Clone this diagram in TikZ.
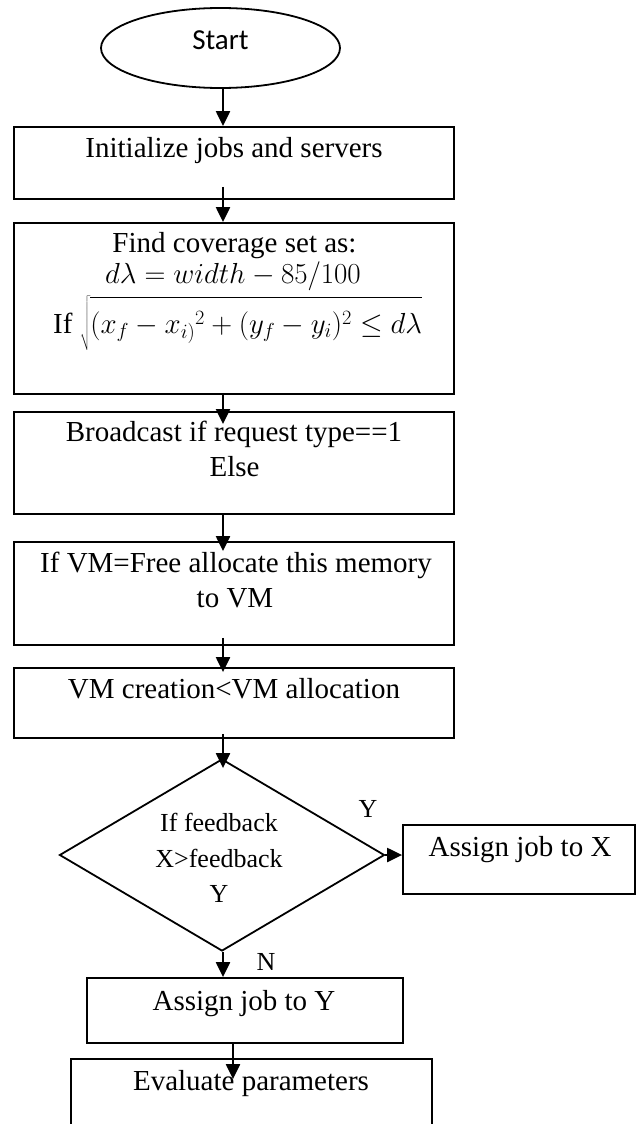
\documentclass[tikz,border=0pt]{standalone}
\usepackage{fix-cm}
\usepackage{fontspec}
\setmainfont{Liberation Serif}
\newfontfamily\calfont{Carlito}
\usetikzlibrary{shapes.geometric,arrows.meta,calc}
\begin{document}
\begin{tikzpicture}[x=1pt,y=-1pt,
  box/.style={draw,line width=1.8pt,rectangle,inner sep=0pt},
  arr/.style={line width=2.2pt,-{Triangle[length=15pt,width=14pt]}},
  txt/.style={font=\fontsize{29}{35}\selectfont,anchor=base,inner sep=0pt},
  dtxt/.style={font=\fontsize{26}{36}\selectfont,anchor=base,inner sep=0pt}]
\useasboundingbox (0,0) rectangle (636,1124);
% shapes
\node[draw,ellipse,line width=1.8pt,minimum width=239pt,minimum height=80pt,inner sep=0pt] (start) at (220.5,48) {};
\node[box,minimum width=440pt,minimum height=72pt] (b1) at (234,163) {};
\node[box,minimum width=440pt,minimum height=171pt] (b2) at (234,308.5) {};
\node[box,minimum width=440pt,minimum height=102pt] (b3) at (234,463) {};
\node[box,minimum width=440pt,minimum height=103pt] (b4) at (234,593.5) {};
\node[box,minimum width=440pt,minimum height=70pt] (b5) at (234,703) {};
\node[draw,diamond,line width=1.8pt,minimum width=325pt,minimum height=192pt,inner sep=0pt] (dia) at (222,855) {};
\node[box,minimum width=232pt,minimum height=69pt] (bx) at (519,859.5) {};
\node[box,minimum width=316pt,minimum height=65pt] (by) at (245,1010.5) {};
\node[box,minimum width=361pt,minimum height=81pt] (ev) at (251.5,1099.5) {};
% texts
\node[txt,font=\calfont\fontsize{29}{35}\selectfont] (tstart) at (220.5,50) {Start};
\node[txt] (t1) at (234,157) {Initialize jobs and servers};
\node[txt] (t2a) at (234.5,252) {Find coverage set as:};
\node[txt] (t2b) at (233,283) {$d\lambda = width - 85/100$};
\node[txt,anchor=base west] (t2c) at (53,333) {If $\sqrt{\rule[-17pt]{0pt}{52pt}(x_f - {x_{i)}}^2 + (y_f - y_i)^2 \le d\lambda}$};
\node[txt] (t3a) at (234,441) {Broadcast if request type==1};
\node[txt] (t3b) at (234.5,476) {Else};
\node[txt] (t4a) at (236,572) {If VM=Free allocate this memory};
\node[txt] (t4b) at (235,607) {to VM};
\node[txt] (t5) at (234,698) {VM creation<VM allocation};
\node[dtxt] (td1) at (219,831) {If feedback};
\node[dtxt] (td2) at (219,867) {X>feedback};
\node[dtxt] (td3) at (219,902) {Y};
\node[dtxt] (ly) at (368,817) {Y};
\node[dtxt] (ln) at (266,970) {N};
\node[txt] (tx) at (520,856) {Assign job to X};
\node[txt] (ty) at (244,1010) {Assign job to Y};
\node[txt] (tev) at (251,1090) {Evaluate parameters};
% connectors
\coordinate (ax) at (223,0);
\coordinate (ax2) at (233,0);
\draw[arr] (start.south -| ax) -- (b1.north -| ax);
\draw[arr] ($(b1.south -| ax)+(0,-13)$) -- (b2.north -| ax);
\draw[arr] ($(b2.south -| ax)+(0,-2)$) -- ($(b3.north -| ax)+(0,13)$);
\draw[arr] (b3.south -| ax) -- ($(b4.north -| ax)+(0,10)$);
\draw[arr] ($(b4.south -| ax)+(0,-8)$) -- ($(b5.north -| ax)+(0,5)$);
\draw[arr] ($(b5.south -| ax)+(0,-5)$) -- ($(dia.north -| ax)+(0,10)$);
\draw[arr] (dia.east) -- (dia.east -| bx.west);
\draw[arr] (dia.south -| ax) -- (by.north -| ax);
\draw[arr] (by.south -| ax2) -- ($(ev.north -| ax2)+(0,21)$);
\end{tikzpicture}
\end{document}
